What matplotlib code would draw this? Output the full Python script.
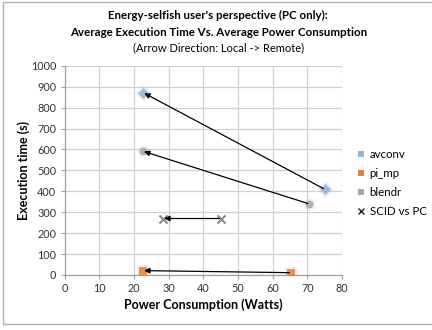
import matplotlib
matplotlib.use("Agg")
import matplotlib.pyplot as plt
from matplotlib.patches import Rectangle
from matplotlib.lines import Line2D

plt.rcParams['font.family'] = ['Lato', 'DejaVu Sans']

# Power (W) and execution time (s): local run -> remote run
series = ["avconv", "pi_mp", "blendr", "SCID vs PC"]
local_power = [75, 65.2, 70.5, 45]
local_time = [410, 11, 340, 270]
remote_power = [22.6, 22.5, 22.5, 28.3]
remote_time = [872, 21, 592, 270]
colors = ["#8fb3d9", "#e8803a", "#a6a6a6", "#555555"]
markers = ["D", "s", "o", "x"]

xticks = list(range(0, 81, 10))
yticks = list(range(0, 1001, 100))

fig = plt.figure(figsize=(4.32, 3.30), dpi=100)
fig.patches.append(Rectangle((3 / 432, 6 / 330), 440 / 432, 322 / 330,
                             transform=fig.transFigure, fill=False,
                             edgecolor="#b0b0b0", linewidth=1.0))

ax = fig.add_axes([0.1498, 0.1667, 0.7917 - 0.1498, 0.8006 - 0.1667])
ax.set_xlim(0, 80)
ax.set_ylim(0, 1000)
ax.set_xticks(xticks)
ax.set_yticks(yticks)
ax.grid(True, color="#d0d0d0", linewidth=0.9)
ax.set_axisbelow(True)
for side in ["top", "right"]:
    ax.spines[side].set_visible(False)
for side in ["left", "bottom"]:
    ax.spines[side].set_color("#a0a0a0")
    ax.spines[side].set_linewidth(0.9)
ax.tick_params(axis="both", direction="out", length=3, color="#a0a0a0",
               labelsize=7.8, labelcolor="#333333", pad=3)

for name, lx, ly, rx, ry, c, m in zip(series, local_power, local_time,
                                     remote_power, remote_time, colors, markers):
    if m == "x":
        ax.scatter([lx, rx], [ly, ry], marker=m, s=34, color=c,
                   linewidths=1.5, alpha=0.7, zorder=3)
    else:
        # soft glow around each marker
        ax.scatter([lx, rx], [ly, ry], marker=m, s=80, color=c,
                   alpha=0.15, linewidths=0, zorder=3)
        ax.scatter([lx, rx], [ly, ry], marker=m, s=32, color=c,
                   alpha=0.85, linewidths=0, zorder=3)
    ax.annotate("", xy=(rx, ry), xytext=(lx, ly),
                arrowprops=dict(arrowstyle="-|>", color="black", lw=0.9,
                                mutation_scale=8, shrinkA=1, shrinkB=1),
                zorder=4)

ax.set_xlabel("Power Consumption (Watts)", fontsize=9, fontweight="bold",
              labelpad=3)
ax.set_ylabel("Execution time (s)", fontsize=9, fontweight="bold")
ax.yaxis.set_label_coords(-0.125, 0.5)

fig.text(0.505, 1 - 15 / 330, "Energy-selfish user's perspective (PC only):",
         ha="center", va="center", fontsize=8.3, fontweight="bold")
fig.text(0.505, 1 - 32 / 330,
         "Average Execution Time Vs. Average Power Consumption",
         ha="center", va="center", fontsize=8.3, fontweight="bold")
fig.text(0.505, 1 - 48 / 330, "(Arrow Direction: Local -> Remote)",
         ha="center", va="center", fontsize=8)

handles = [
    Line2D([], [], linestyle="none", marker="s", markersize=5,
           markerfacecolor=colors[0], markeredgewidth=0),
    Line2D([], [], linestyle="none", marker="s", markersize=5,
           markerfacecolor=colors[1], markeredgewidth=0),
    Line2D([], [], linestyle="none", marker="s", markersize=5,
           markerfacecolor=colors[2], markeredgewidth=0),
    Line2D([], [], linestyle="none", marker="x", markersize=5,
           color="#222222", markeredgewidth=1.0),
]
fig.legend(handles, series, loc="upper left",
           bbox_to_anchor=(358 / 432, 1 - 149 / 330), frameon=False,
           fontsize=8.3, handlelength=0.6, handletextpad=0.4,
           labelspacing=0.7, borderpad=0, borderaxespad=0)

fig.savefig("out.png", dpi=100)
